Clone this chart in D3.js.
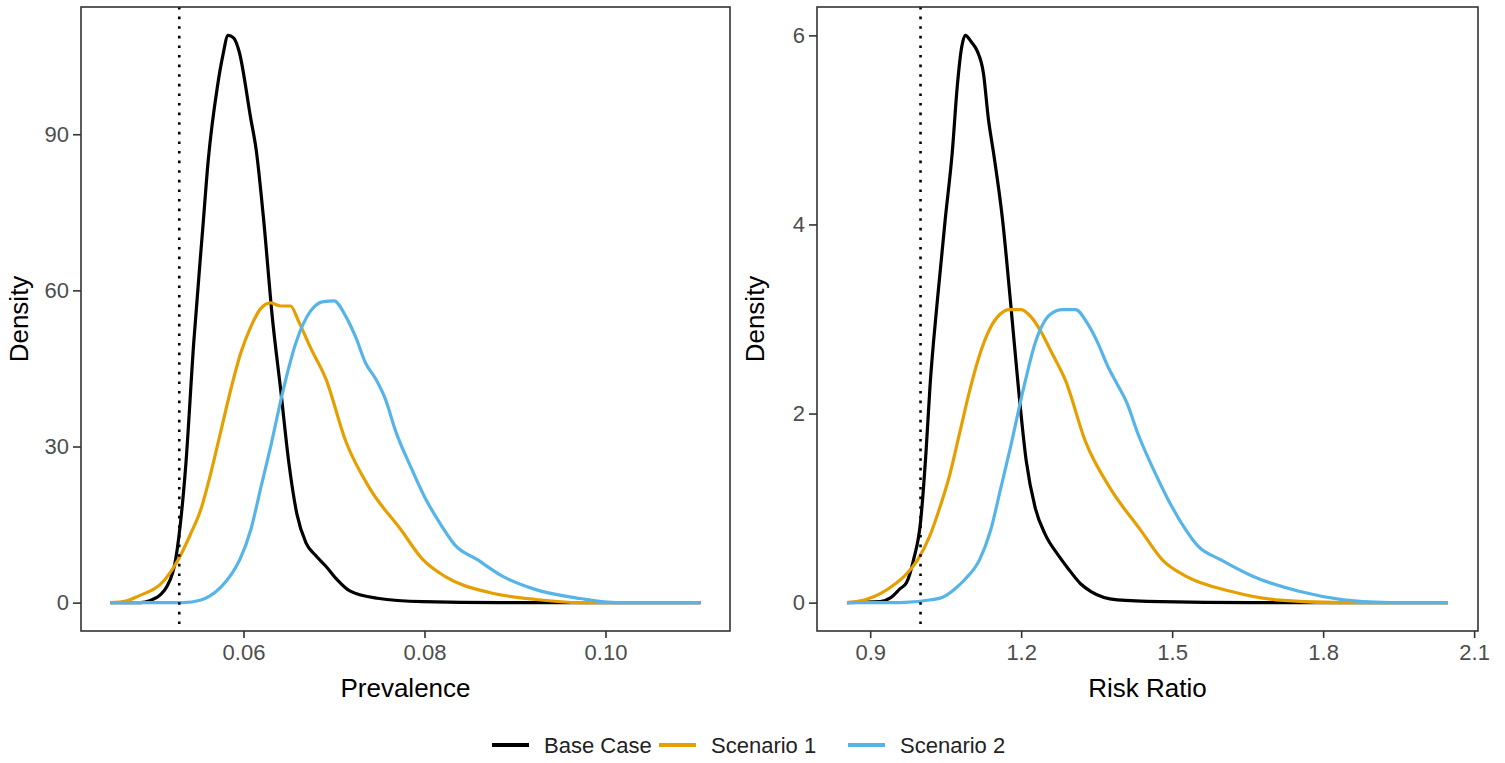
<!DOCTYPE html>
<html>
<head>
<meta charset="utf-8">
<script src="https://cdn.jsdelivr.net/npm/d3@7"></script>
<style>
  body { margin: 0; background: #fff; }
  svg { display: block; font-family: "Liberation Sans", Arial, sans-serif; }
</style>
</head>
<body>
<div id="chart"></div>
<script>
// series names + colours
const seriesNames = ["Base Case", "Scenario 1", "Scenario 2"];
const seriesColors = ["#000000", "#E69F00", "#56B4E9"];

// prevalence panel, density curves (x value, density)
const prevBaseX = [0.0453,0.0486,0.0497,0.0508,0.0515,0.0525,0.0536,0.0545,0.0555,0.0561,0.0571,0.0577,0.0583,0.0589,0.0595,0.0608,0.0614,0.0622,0.0632,0.0641,0.0650,0.0659,0.0669,0.0680,0.0691,0.0703,0.0718,0.0748,0.0798,0.0884,0.1105];
const prevBaseD = [0,0,0.4,1.5,3,8.3,26,50,72,85,99,105,109,108.5,106,93,87,74,54.5,41,27,17,11.5,9,7,4.5,2.2,0.85,0.2,0,0];
const prevS1X = [0.0453,0.0470,0.0483,0.0513,0.0528,0.0541,0.0553,0.0564,0.0575,0.0586,0.0597,0.0608,0.0619,0.0630,0.0641,0.0652,0.0661,0.0674,0.0691,0.0713,0.0740,0.0774,0.0798,0.0823,0.0873,0.0923,0.0972,0.1105];
const prevS1D = [0,0.3,1.2,4.4,8.3,13,18,25,33,41,48,53,56.5,57.6,57,57,54,49,43,31,21.8,14,8.3,5,1.9,0.6,0,0];
const prevS2X = [0.0453,0.0533,0.0553,0.0562,0.0575,0.0588,0.0596,0.0608,0.0619,0.0630,0.0644,0.0658,0.0674,0.0687,0.0700,0.0713,0.0724,0.0735,0.0746,0.0757,0.0768,0.0785,0.0801,0.0818,0.0834,0.0858,0.0887,0.0923,0.0972,0.1013,0.1105];
const prevS2D = [0,0,0.5,1.2,3,5.8,8.3,14,22,30,41,50,56,57.8,58,55,51,46,43,39,33,26,20,15,11,8.3,5,2.5,0.8,0,0];

// risk ratio panel
const rrBaseX = [0.854,0.920,0.940,0.960,0.972,0.986,1.000,1.011,1.019,1.033,1.049,1.063,1.073,1.081,1.089,1.101,1.113,1.125,1.135,1.145,1.163,1.179,1.194,1.210,1.228,1.248,1.274,1.292,1.318,1.338,1.391,1.477,1.656,2.048];
const rrBaseD = [0,0.01,0.05,0.15,0.21,0.45,0.85,1.6,2.3,3.17,4.05,4.76,5.46,5.85,6.0,5.93,5.83,5.6,5.11,4.76,4.05,3.17,2.3,1.5,1.0,0.72,0.5,0.37,0.2,0.12,0.03,0.01,0,0];
const rrS1X = [0.854,0.890,0.922,0.950,0.968,0.994,1.018,1.038,1.058,1.078,1.098,1.118,1.138,1.158,1.176,1.200,1.220,1.240,1.260,1.288,1.328,1.378,1.437,1.481,1.527,1.616,1.706,1.841,2.048];
const rrS1D = [0,0.03,0.1,0.2,0.28,0.45,0.7,1.0,1.35,1.8,2.25,2.63,2.9,3.05,3.1,3.1,3.02,2.86,2.65,2.35,1.7,1.2,0.77,0.45,0.28,0.12,0.03,0,0];
const rrS2X = [0.854,0.960,1.021,1.045,1.067,1.089,1.117,1.139,1.159,1.179,1.204,1.228,1.258,1.282,1.308,1.332,1.352,1.372,1.392,1.411,1.431,1.461,1.491,1.521,1.551,1.598,1.660,1.752,1.841,1.931,2.048];
const rrS2D = [0,0,0.03,0.06,0.14,0.25,0.45,0.76,1.2,1.65,2.25,2.75,3.05,3.1,3.1,2.95,2.75,2.5,2.3,2.1,1.8,1.43,1.1,0.82,0.6,0.45,0.28,0.12,0.03,0,0];

// ticks and reference lines
const prevTicks = [0.06, 0.08, 0.10];
const prevDensityTicks = [0, 30, 60, 90];
const rrTicks = [0.9, 1.2, 1.5, 1.8, 2.1];
const rrDensityTicks = [0, 2, 4, 6];
const prevRef = 0.0529;
const rrRef = 1.0;

const width = 1505, height = 763;

const svg = d3.select("#chart").append("svg")
    .attr("width", width)
    .attr("height", height);

const panels = [
    { left: 81, right: 730, top: 7, bottom: 631,
      series: [[prevBaseX, prevBaseD], [prevS1X, prevS1D], [prevS2X, prevS2D]],
      xTicks: prevTicks, yTicks: prevDensityTicks, ref: prevRef,
      fmt: d3.format(".2f"), xLabel: "Prevalence" },
    { left: 817, right: 1478, top: 7, bottom: 631,
      series: [[rrBaseX, rrBaseD], [rrS1X, rrS1D], [rrS2X, rrS2D]],
      xTicks: rrTicks, yTicks: rrDensityTicks, ref: rrRef,
      fmt: d3.format(".1f"), xLabel: "Risk Ratio" }
];

panels.forEach(p => {
    // ggplot-like 5% expansion
    const allX = p.series.flatMap(s => s[0]);
    const xmin = d3.min(allX), xmax = d3.max(allX);
    const xpad = (xmax - xmin) * 0.05;
    const ymax = d3.max(p.series.flatMap(s => s[1]));

    const x = d3.scaleLinear().domain([xmin - xpad, xmax + xpad]).range([p.left, p.right]);
    const y = d3.scaleLinear().domain([-ymax * 0.05, ymax * 1.05]).range([p.bottom, p.top]);

    const g = svg.append("g");

    const line = d3.line()
        .x(d => x(d[0]))
        .y(d => y(d[1]))
        .curve(d3.curveMonotoneX);

    p.series.forEach((s, i) => {
        const pts = s[0].map((v, j) => [v, s[1][j]]);
        g.append("path")
            .datum(pts)
            .attr("d", line)
            .attr("fill", "none")
            .attr("stroke", seriesColors[i])
            .attr("stroke-width", 3.2)
            .attr("stroke-linejoin", "round");
    });

    // dotted reference line
    g.append("line")
        .attr("x1", x(p.ref)).attr("x2", x(p.ref))
        .attr("y1", p.top).attr("y2", p.bottom)
        .attr("stroke", "#000")
        .attr("stroke-width", 2.6)
        .attr("stroke-dasharray", "2.6,7");

    // panel border
    g.append("rect")
        .attr("x", p.left).attr("y", p.top)
        .attr("width", p.right - p.left).attr("height", p.bottom - p.top)
        .attr("fill", "none")
        .attr("stroke", "#333")
        .attr("stroke-width", 1.6);

    // axes
    const xAxis = d3.axisBottom(x).tickValues(p.xTicks).tickFormat(p.fmt).tickSize(7).tickPadding(6);
    const yAxis = d3.axisLeft(y).tickValues(p.yTicks).tickFormat(d3.format("d")).tickSize(8).tickPadding(4);

    const gx = g.append("g").attr("transform", `translate(0,${p.bottom})`).call(xAxis);
    const gy = g.append("g").attr("transform", `translate(${p.left},0)`).call(yAxis);
    [gx, gy].forEach(a => {
        a.select(".domain").remove();
        a.selectAll(".tick line").attr("stroke", "#333").attr("stroke-width", 1.6);
        a.selectAll(".tick text")
            .attr("fill", "#4d4d4d")
            .style("font-size", "22px")
            .style("font-family", "'Liberation Sans', Arial, sans-serif");
    });

    g.append("text")
        .attr("x", (p.left + p.right) / 2)
        .attr("y", 697)
        .attr("text-anchor", "middle")
        .style("font-size", "26px")
        .attr("fill", "#000")
        .text(p.xLabel);

    g.append("text")
        .attr("transform", `translate(${p.left - 53},${(p.top + p.bottom) / 2}) rotate(-90)`)
        .attr("text-anchor", "middle")
        .style("font-size", "26px")
        .attr("fill", "#000")
        .text("Density");
});

// legend
const legendKeyX = [492, 659, 848];
const legendY = 745;
const legend = svg.append("g");
seriesNames.forEach((name, i) => {
    legend.append("line")
        .attr("x1", legendKeyX[i]).attr("x2", legendKeyX[i] + 37)
        .attr("y1", legendY).attr("y2", legendY)
        .attr("stroke", seriesColors[i])
        .attr("stroke-width", 4);
    legend.append("text")
        .attr("x", legendKeyX[i] + 52)
        .attr("y", legendY + 8)
        .style("font-size", "22px")
        .attr("fill", "#222")
        .text(name);
});
</script>
</body>
</html>
